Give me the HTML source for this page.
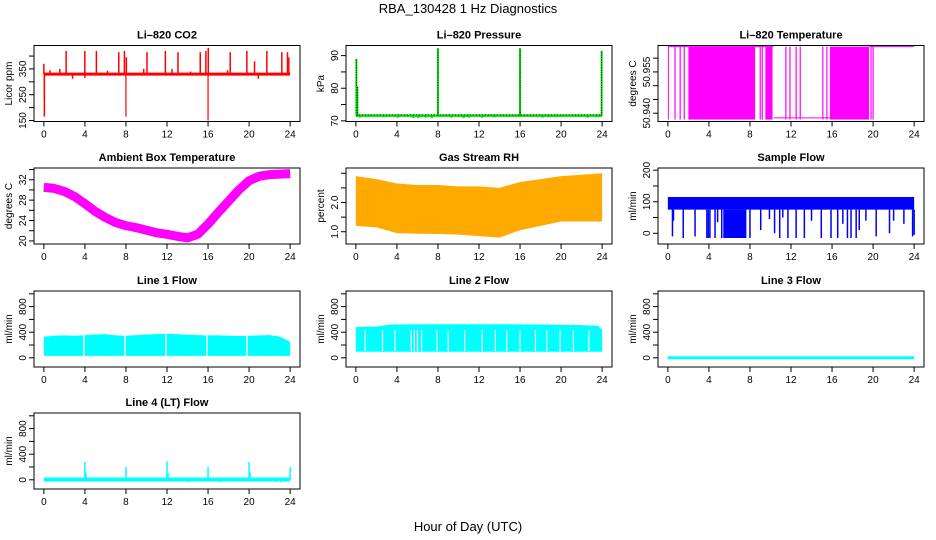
<!DOCTYPE html>
<html><head><meta charset="utf-8"><style>
html,body{margin:0;padding:0;background:#fff;}
svg{display:block;font-family:"Liberation Sans",Arial,sans-serif;}
</style></head><body>
<svg id="c" width="936" height="540" xmlns="http://www.w3.org/2000/svg">
<text x="468" y="13" text-anchor="middle" font-size="13">RBA_130428  1 Hz Diagnostics</text>
<text x="468" y="531" text-anchor="middle" font-size="13">Hour of Day (UTC)</text>
</svg>
<script>
// ---------- data arrays ----------
const xTicks = [0,4,8,12,16,20,24];
// CO2
const co2Base = 330;
const co2SpikeHours = [0.0,0.05,1.56,2.17,3.99,5.12,7.3,7.85,8.04,9.73,10.05,11.84,12.49,13.07,15.24,15.79,16.02,18.16,19.78,20.53,21.73,23.19,23.74,23.87,2.8,4.0,20.9,0.6,6.2,14.3,17.9];
const co2SpikeValues = [370,165,350,420,420,420,415,420,395,350,415,420,350,415,415,420,432,415,420,380,420,415,415,395,312,315,312,345,343,340,345];
const co2DownHours = [0.05,8.0,16.0];
const co2DownValues = [232,165,150];
// Pressure
const presBase = 71.6;
const presSpikeHours = [0.05,0.15,8.0,16.0,23.95];
const presSpikeValues = [89,80.5,92.3,92.3,91.5];
const presDipHours = [0.4,2.7,4.1,5.6,6.1,6.8,7.4,9.3,10.5,11.0,12.3,13.5,18.2,18.8,19.5,22.6,23.5];
const presDipValues = [71.0,71.1,71.0,70.9,70.9,71.0,70.9,71.0,70.9,71.0,71.0,71.1,71.0,71.1,71.1,71.0,71.1];
// Li-820 temperature
const ltHigh = 50.9642, ltLow = 50.9377, ltLow2 = 50.9383;
const ltBlockStart = [0.0,2.0,9.5,15.8];
const ltBlockEnd = [0.1,8.5,10.2,19.6];
const ltLineHours = [0.7,1.2,1.6,9.0,9.2,9.9,11.5,11.9,12.5,12.9,15.1,15.5,19.8,20.0];
// Ambient box temperature
const ambHours = [0,1,2,3,4,5,6,7,8,9,10,11,12,13,14,15,16,17,18,19,20,21,22,23,24];
const ambValues = [30.5,30.3,29.7,28.7,27.3,25.8,24.6,23.6,23.0,22.6,22.1,21.6,21.3,20.9,20.6,21.3,23.3,25.6,27.8,30.0,31.8,32.7,33.0,33.1,33.2];
// Gas stream RH
const rhHours = [0,2,4,6,8,10,12,14,16,18,20,22,24];
const rhHigh = [2.9,2.8,2.65,2.6,2.6,2.55,2.55,2.5,2.7,2.8,2.9,2.95,3.0];
const rhLow = [1.2,1.15,0.95,0.93,0.92,0.9,0.85,0.8,1.05,1.2,1.35,1.35,1.35];
// Sample flow
const sfLow = 75, sfHigh = 115;
const sfDropHours = [0.45,0.55,1.5,2.65,3.8,3.95,4.1,4.6,4.85,5.25,8.0,9.05,9.9,10.4,10.9,11.2,11.7,12.5,13.3,14.0,14.95,15.9,16.55,17.05,17.5,17.85,18.35,18.65,19.3,20.3,21.6,22.0,23.0,23.85,24.0];
const sfDropValues = [-10,40,-15,-10,-15,-15,-15,-15,35,-15,-15,10,45,0,-15,50,-15,-15,-15,40,-15,-15,-15,30,-15,-15,-15,10,40,-10,0,40,30,-10,-5];
const sfDenseStart = 5.4, sfDenseEnd = 7.65, sfDenseMin = -15;
// Line 1 flow
const l1Hours = [0,1,2,3,4,5,6,7,8,9,10,11,12,13,14,15,16,17,18,19,20,21,22,23,24];
const l1High = [330,345,350,345,355,365,370,350,345,355,365,370,375,370,360,355,350,350,345,340,345,350,355,330,250];
const l1Low = 30;
const l1GapHours = [3.9,7.9,11.9,15.9,19.8];
// Line 2 flow
const l2Hours = [0,2,3.5,6,10,14,18,22,23.6,24];
const l2High = [480,490,520,525,525,525,520,510,500,440];
const l2Low = 95;
const l2GapHours = [0.9,2.6,3.8,5.4,5.7,6.0,6.4,7.9,9.0,10.6,12.3,13.6,14.7,16.0,17.5,18.6,19.9,21.2,22.7];
// Line 3 flow
const l3Value = 0;
// Line 4 flow
const l4Base = 5;
const l4SpikeHours = [4.0,4.1,8.0,12.0,12.1,16.0,20.0,20.1,24.0,14.1,17.2,22.6,23.1];
const l4SpikeValues = [280,110,200,290,110,200,280,110,200,-40,-40,-35,-40];

// ---------- drawing ----------
const NS = "http://www.w3.org/2000/svg";
const svg = document.getElementById('c');
const W = 266, H = 76;
function mk(tag, attrs, parent){
  const e = document.createElementNS(NS, tag);
  for (const k in attrs) e.setAttribute(k, attrs[k]);
  (parent || svg).appendChild(e);
  return e;
}
function panel(key, L, T, title, ylab, ylo, yhi, yticks, ylabels){
  const g = mk('g', {});
  
  
  const x = h => L + (h + 0.96) / 25.92 * W;
  const y = v => T + H - (v - ylo) / (yhi - ylo) * H;
  const marks = mk('g', {}, g);
  
  
  const box = mk('rect', {x: L, y: T, width: W, height: H, fill: 'none', stroke: '#000', 'stroke-width': 1}, g);
  
  
  const t = mk('text', {x: L + W / 2, y: T - 7, 'text-anchor': 'middle', 'font-size': 11, 'font-weight': 'bold'}, g);
  t.textContent = title;
  
  
  const xa = mk('g', {}, g);
  
  
  xTicks.forEach(h => {
    mk('line', {x1: x(h), x2: x(h), y1: T + H, y2: T + H + 5, stroke: '#000'}, xa);
    const lb = mk('text', {x: x(h), y: T + H + 16, 'text-anchor': 'middle', 'font-size': 10}, xa);
    lb.textContent = h;
    
    
  });
  const ya = mk('g', {}, g);
  
  
  yticks.forEach(v => {
    mk('line', {x1: L - 5, x2: L, y1: y(v), y2: y(v), stroke: '#000'}, ya);
  });
  ylabels.forEach(v => {
    const lb = mk('text', {x: 0, y: 0, 'text-anchor': 'middle', 'font-size': 10, transform: 'translate(' + (L - 8) + ',' + y(v) + ') rotate(-90)'}, ya);
    lb.textContent = v;
    
    
  });
  const yt = mk('text', {x: 0, y: 0, 'text-anchor': 'middle', 'font-size': 10, transform: 'translate(' + (L - 22) + ',' + (T + H / 2) + ') rotate(-90)'}, g);
  yt.textContent = ylab;
  
  
  return {x, y, g: marks};
}
function vline(p, h, v1, v2, color, w, name){
  const l = mk('line', {x1: p.x(h), x2: p.x(h), y1: p.y(v1), y2: p.y(v2), stroke: color, 'stroke-width': w || 1}, p.g);
  
  
  return l;
}
function hline(p, h1, h2, v, color, w, name){
  const l = mk('line', {x1: p.x(h1), x2: p.x(h2), y1: p.y(v), y2: p.y(v), stroke: color, 'stroke-width': w || 1}, p.g);
  
  
  return l;
}
function band(p, hours, hi, lo, fill, name){
  let d = 'M' + hours.map((h, i) => p.x(h) + ',' + p.y(hi[i])).join(' L');
  for (let i = hours.length - 1; i >= 0; i--) d += ' L' + p.x(hours[i]) + ',' + p.y(Array.isArray(lo) ? lo[i] : lo);
  const e = mk('path', {d: d + 'Z', fill: fill}, p.g);
  
  
  return e;
}
const C1 = 34, C2 = 346, C3 = 658, R1 = 45.5, R2 = 168, R3 = 291, R4 = 413;
const flowTicks = [0,200,400,600,800,1000], flowLabels = [0,400,800];

// CO2
const pCo2 = panel('co2', C1, R1, 'Li\u2013820 CO2', 'Licor ppm', 146, 441, [150,200,250,300,350,400], [150,250,350]);
co2SpikeHours.forEach((h, i) => vline(pCo2, h, co2Base, co2SpikeValues[i], '#ff0000', 1.5, 'co2-spike'));
co2DownHours.forEach((h, i) => vline(pCo2, h, co2Base, co2DownValues[i], '#ff0000', 1.2, 'co2-dip'));
hline(pCo2, 0, 24, co2Base, '#ff0000', 3, 'co2-baseline');

// Pressure
const pPr = panel('pressure', C2, R1, 'Li\u2013820 Pressure', 'kPa', 69.8, 93.1, [70,75,80,85,90], [70,80,90]);
presDipHours.forEach((h, i) => vline(pPr, h, presBase, presDipValues[i], '#00dd00', 2.5, 'pressure-dip'));
hline(pPr, 0, 24, presBase, '#00dd00', 2.5, 'pressure-baseline');
hline(pPr, 0, 24, presBase + 0.25, '#000', 0.8, 'pressure-baseline-dots').setAttribute('stroke-dasharray', '1 2');
presSpikeHours.forEach((h, i) => {
  vline(pPr, h, presBase, presSpikeValues[i], '#00dd00', 2, 'pressure-spike');
  vline(pPr, h, presBase, presSpikeValues[i], '#000', 0.8, 'pressure-spike-dots').setAttribute('stroke-dasharray', '1 1.5');
});

// Li-820 temperature
const pLt = panel('li820-temp', C3, R1, 'Li\u2013820 Temperature', 'degrees C', 50.937, 50.9646, [50.940,50.945,50.950,50.955,50.960], ['50.940','50.955']);
ltBlockStart.forEach((s, i) => {
  const r = mk('rect', {x: pLt.x(s), y: pLt.y(ltHigh), width: pLt.x(ltBlockEnd[i]) - pLt.x(s), height: pLt.y(ltLow) - pLt.y(ltHigh), fill: '#ff00ff'}, pLt.g);
  
  
});
ltLineHours.forEach(h => vline(pLt, h, ltLow, ltHigh, '#ff00ff', 1.2, 'temp-oscillation-line'));
hline(pLt, 0, 10.3, ltHigh, '#ff00ff', 1, 'temp-high-level');
hline(pLt, 10.3, 15.8, ltLow2, '#ff00ff', 1, 'temp-low-level');
hline(pLt, 19.6, 24, ltHigh, '#ff00ff', 1, 'temp-high-level-late');

// Ambient
const pAmb = panel('ambient-temp', C1, R2, 'Ambient Box Temperature', 'degrees C', 19.4, 34.3, [20,22,24,26,28,30,32,34], [20,24,28,32]);
const ambPath = mk('path', {d: 'M' + ambHours.map((h, i) => pAmb.x(h) + ',' + pAmb.y(ambValues[i])).join(' L'), fill: 'none', stroke: '#ff00ff', 'stroke-width': 9, 'stroke-linejoin': 'round'}, pAmb.g);



// RH
const pRh = panel('gas-rh', C2, R2, 'Gas Stream RH', 'percent', 0.58, 3.18, [1.0,1.5,2.0,2.5,3.0], ['1.0','2.0']);
band(pRh, rhHours, rhHigh, rhLow, '#ffaa00', 'rh-band');

// Sample flow
const pSf = panel('sample-flow', C3, R2, 'Sample Flow', 'ml/min', -34, 207, [0,50,100,150,200], [0,100,200]);
const sfr = mk('rect', {x: pSf.x(0), y: pSf.y(sfHigh), width: pSf.x(24) - pSf.x(0), height: pSf.y(sfLow) - pSf.y(sfHigh), fill: '#0000ff'}, pSf.g);


const sfd = mk('rect', {x: pSf.x(sfDenseStart), y: pSf.y(sfLow), width: pSf.x(sfDenseEnd) - pSf.x(sfDenseStart), height: pSf.y(sfDenseMin) - pSf.y(sfLow), fill: '#0000ff'}, pSf.g);


sfDropHours.forEach((h, i) => vline(pSf, h, sfLow, sfDropValues[i], '#0000ff', 1.5, 'sample-flow-drop'));

// Line 1
const pL1 = panel('line1-flow', C1, R3, 'Line 1 Flow', 'ml/min', -144, 1044, flowTicks, flowLabels);
band(pL1, l1Hours, l1High, l1Low, '#00ffff', 'line1-band');
l1GapHours.forEach(h => vline(pL1, h, l1Low, 400, '#ffffff', 1.5, 'line1-gap'));

// Line 2
const pL2 = panel('line2-flow', C2, R3, 'Line 2 Flow', 'ml/min', -144, 1044, flowTicks, flowLabels);
band(pL2, l2Hours, l2High, l2Low, '#00ffff', 'line2-band');
l2GapHours.forEach(h => vline(pL2, h, l2Low + 10, 430, '#ffffff', 1.2, 'line2-gap'));

// Line 3
const pL3 = panel('line3-flow', C3, R3, 'Line 3 Flow', 'ml/min', -144, 1044, flowTicks, flowLabels);
hline(pL3, 0, 24, l3Value, '#00ffff', 3, 'line3-flow-line');

// Line 4
const pL4 = panel('line4-flow', C1, R4, 'Line 4 (LT) Flow', 'ml/min', -144, 1044, flowTicks, flowLabels);
l4SpikeHours.forEach((h, i) => vline(pL4, h, l4Base, l4SpikeValues[i], '#00ffff', 1.5, 'line4-spike'));
hline(pL4, 0, 24, l4Base, '#00ffff', 4, 'line4-baseline');
</script>
</body></html>
